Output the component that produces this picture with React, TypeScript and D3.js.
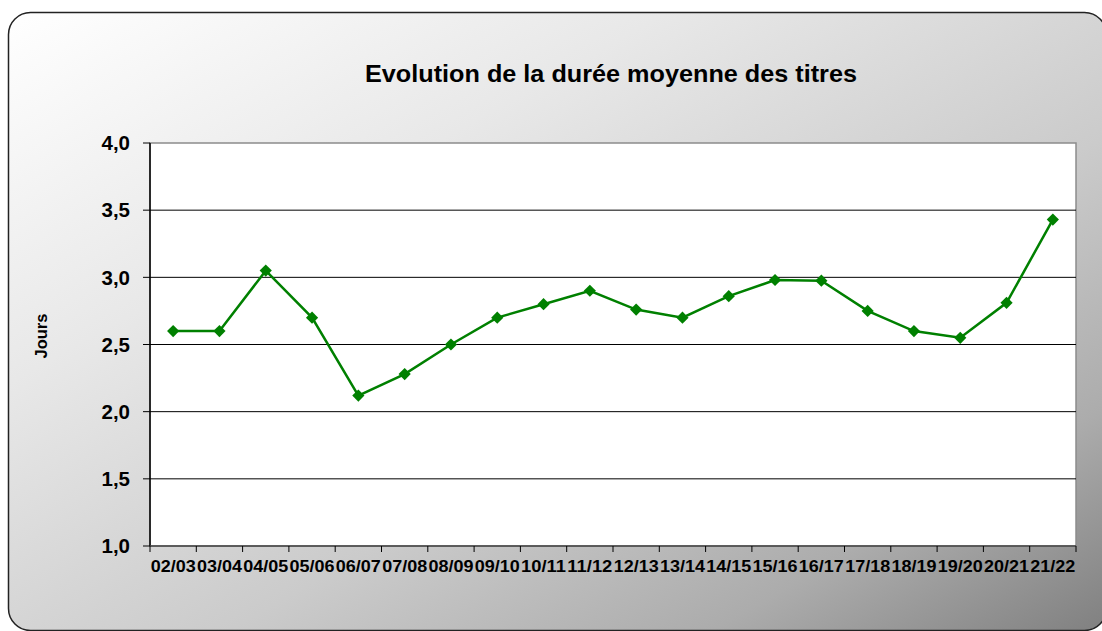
import React from "react";
import * as d3 from "d3";

const categories = ["02/03","03/04","04/05","05/06","06/07","07/08","08/09","09/10","10/11","11/12","12/13","13/14","14/15","15/16","16/17","17/18","18/19","19/20","20/21","21/22"];
const values = [2.6, 2.6, 3.05, 2.7, 2.12, 2.28, 2.5, 2.7, 2.8, 2.9, 2.76, 2.7, 2.86, 2.98, 2.975, 2.75, 2.6, 2.55, 2.81, 3.43];
const yTicks = [1.0, 1.5, 2.0, 2.5, 3.0, 3.5, 4.0];
const title = "Evolution de la durée moyenne des titres";
const yTitle = "Jours";

const W = 1102, H = 631;
const plot = { left: 150, right: 1076, top: 143, bottom: 546 };
const font = "'Liberation Sans', Arial, sans-serif";

export default function App() {
  const x = d3.scaleBand().domain(categories).range([plot.left, plot.right]).padding(0);
  const y = d3.scaleLinear().domain([1, 4]).range([plot.bottom, plot.top]);
  const cx = (c: string) => (x(c) as number) + x.bandwidth() / 2;
  const line = d3.line<number>().x((_, i) => cx(categories[i])).y(d => y(d));
  const diamond = d3.symbol().type(d3.symbolDiamond2).size(95)() as string;
  const fmt = (v: number) => v.toFixed(1).replace(".", ",");
  const boundaries = d3.range(categories.length + 1).map(i => plot.left + i * x.bandwidth());

  return (
    <div style={{ position: "absolute", left: 0, top: 0 }}>
      <svg width={W} height={H} style={{ display: "block" }}>
        <defs>
          <linearGradient id="bg" x1="0" y1="0" x2="1" y2="1">
            <stop offset="0" stopColor="#ffffff" />
            <stop offset="0.3" stopColor="#e8e8e8" />
            <stop offset="0.6" stopColor="#cbcbcb" />
            <stop offset="0.82" stopColor="#acacac" />
            <stop offset="1" stopColor="#808080" />
          </linearGradient>
        </defs>
        <rect x={8.5} y={12.5} width={1098} height={618} rx={22} ry={22} fill="url(#bg)" stroke="#222" strokeWidth={1.5} />
        <text x={611} y={82} textAnchor="middle" fontFamily={font} fontWeight="bold" fontSize={24} fill="#000" textLength={492} lengthAdjust="spacingAndGlyphs">{title}</text>
        <rect x={plot.left} y={plot.top} width={plot.right - plot.left} height={plot.bottom - plot.top} fill="#fff" stroke="#8c8c8c" strokeWidth={1.5} />
        {yTicks.map(t => (
          <g key={t}>
            {t > 1 && t < 4 && <line x1={plot.left} x2={plot.right} y1={y(t)} y2={y(t)} stroke="#000" strokeWidth={1} />}
            <line x1={plot.left - 7} x2={plot.left} y1={y(t)} y2={y(t)} stroke="#000" strokeWidth={1} />
            <text x={130} y={y(t)} dy="0.35em" textAnchor="end" fontFamily={font} fontWeight="bold" fontSize={20.5} fill="#000">{fmt(t)}</text>
          </g>
        ))}
        <line x1={plot.left} x2={plot.left} y1={plot.top} y2={plot.bottom} stroke="#000" strokeWidth={1.5} />
        <line x1={plot.left} x2={plot.right} y1={plot.bottom} y2={plot.bottom} stroke="#444" strokeWidth={1.5} />
        {boundaries.map((b, i) => (
          <line key={i} x1={b} x2={b} y1={plot.bottom} y2={plot.bottom + 6} stroke="#000" strokeWidth={1} />
        ))}
        {categories.map(c => (
          <text key={c} x={cx(c)} y={572} textAnchor="middle" fontFamily={font} fontWeight="bold" fontSize={17} fill="#000" textLength={45} lengthAdjust="spacingAndGlyphs">{c}</text>
        ))}
        <text transform={`translate(41,336) rotate(-90)`} textAnchor="middle" dy="0.35em" fontFamily={font} fontWeight="bold" fontSize={16.5} fill="#000">{yTitle}</text>
        <path d={line(values) as string} fill="none" stroke="#008000" strokeWidth={2.5} />
        {values.map((v, i) => (
          <path key={i} d={diamond} transform={`translate(${cx(categories[i])},${y(v)})`} fill="#008000" />
        ))}
      </svg>
    </div>
  );
}
